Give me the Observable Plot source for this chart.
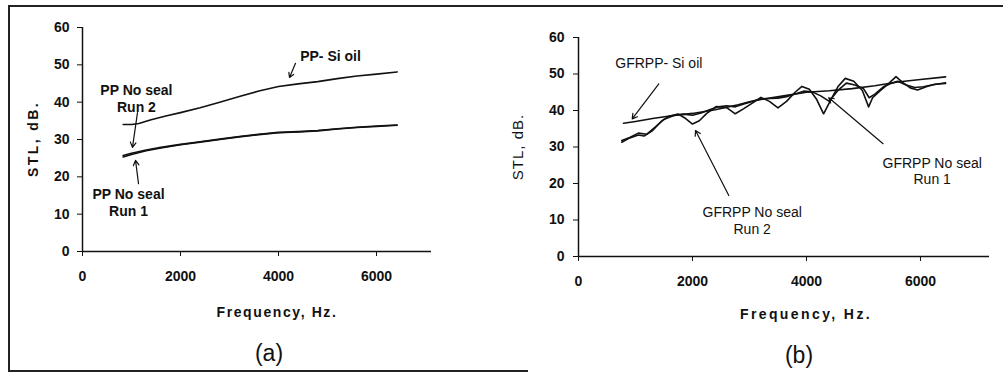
<!DOCTYPE html>
<html>
<head>
<meta charset="utf-8">
<script src="https://cdn.jsdelivr.net/npm/d3@7"></script>
<script src="https://cdn.jsdelivr.net/npm/@observablehq/plot@0.6"></script>
<style>
  html, body { margin: 0; padding: 0; background: #fff; }
  #fig { position: relative; width: 1003px; height: 382px; background: #fff; overflow: hidden;
         font-family: "Liberation Sans", Arial, sans-serif; color: #111; }
  .panel { position: absolute; top: 0; }
  .lbl { position: absolute; white-space: nowrap; transform: translate(-50%, -50%); }
  .axlbl { font-size: 14px; font-weight: bold; letter-spacing: 1.6px; }
  .ylbl { transform: translate(-50%, -50%) rotate(-90deg); }
  .tag { font-size: 23px; font-weight: normal; }
</style>
</head>
<body>
<div id="fig">
  <div style="position:absolute;left:8px;top:5px;width:1000px;height:0;border-top:2px solid #222"></div>
  <div style="position:absolute;left:8px;top:5px;width:0;height:366px;border-left:2px solid #222"></div>
  <div style="position:absolute;left:8px;top:370px;width:520px;height:0;border-top:2px solid #222"></div>
  <div id="pa" class="panel" style="left:0px"></div>
  <div id="pb" class="panel" style="left:500px"></div>
  <div class="lbl axlbl ylbl" style="left:33px;top:139px;letter-spacing:2.4px">STL, dB.</div>
  <div class="lbl axlbl" style="left:277px;top:312px">Frequency, Hz.</div>
  <div class="lbl tag" style="left:269px;top:353px">(a)</div>
  <div class="lbl axlbl ylbl" style="left:517px;top:147px;letter-spacing:1px;font-weight:normal;font-size:15px">STL, dB.</div>
  <div class="lbl axlbl" style="left:806px;top:314px;letter-spacing:2.4px">Frequency, Hz.</div>
  <div class="lbl tag" style="left:799px;top:355px">(b)</div>
</div>
<script>
// ---------- Panel (a): PP ----------
const xTicks = [0, 2000, 4000, 6000];
const yTicks = [0, 10, 20, 30, 40, 50, 60];

const ppSiOilFreq = [830, 1000, 1150, 1400, 1700, 2000, 2400, 2800, 3200, 3600, 4000, 4400, 4800, 5200, 5600, 6000, 6420];
const ppSiOilSTL  = [34.0, 34.0, 34.3, 35.3, 36.3, 37.2, 38.5, 40.0, 41.5, 43.0, 44.2, 44.9, 45.5, 46.3, 47.0, 47.5, 48.1];

const ppRun1Freq = [830, 1000, 1300, 1600, 2000, 2400, 2800, 3200, 3600, 4000, 4400, 4800, 5200, 5600, 6000, 6420];
const ppRun1STL  = [25.3, 26.0, 27.0, 27.7, 28.6, 29.3, 30.0, 30.7, 31.3, 31.8, 32.0, 32.3, 32.8, 33.2, 33.5, 33.8];

const ppRun2Freq = [830, 1000, 1300, 1600, 2000, 2400, 2800, 3200, 3600, 4000, 4400, 4800, 5200, 5600, 6000, 6420];
const ppRun2STL  = [25.7, 26.3, 27.2, 27.9, 28.7, 29.4, 30.1, 30.8, 31.4, 31.9, 32.1, 32.4, 32.9, 33.3, 33.6, 33.9];

const annAText = ["PP- Si oil", "PP No seal\nRun 2", "PP No seal\nRun 1"];
const annAx    = [5061, 1100, 939];
const annAy    = [52.5, 41.1, 13.3];
const arrAx1 = [4347, 1122, 1143];
const arrAy1 = [50.4, 37.2, 18.2];
const arrAx2 = [4224, 1020, 1082];
const arrAy2 = [46.6, 27.9, 24.4];

// ---------- Panel (b): GFRPP ----------
const gfSiOilFreq = [790, 1000, 1300, 1600, 2000, 2400, 2800, 3000, 3200, 3600, 4000, 4400, 4800, 5200, 5600, 6000, 6440];
const gfSiOilSTL  = [36.5, 37.0, 37.8, 38.5, 39.2, 40.2, 41.6, 42.4, 43.0, 44.0, 45.0, 45.4, 46.0, 46.8, 47.8, 48.5, 49.2];

const gfRun1Freq = [760, 900, 1050, 1200, 1350, 1500, 1700, 1850, 2000, 2150, 2300, 2450, 2600, 2750, 2900, 3050, 3200, 3350, 3500, 3650, 3800, 3950, 4100, 4250, 4400, 4550, 4700, 4850, 5000, 5100, 5200, 5350, 5500, 5600, 5750, 5900, 6050, 6200, 6440];
const gfRun1STL  = [31.8, 32.6, 33.8, 33.5, 35.5, 37.6, 38.8, 39.0, 38.7, 39.3, 40.2, 41.0, 41.3, 41.0, 41.8, 42.5, 43.2, 43.3, 43.4, 43.8, 44.5, 45.3, 45.1, 44.0, 42.5, 45.5, 47.5, 47.0, 46.0, 43.5, 44.5, 46.5, 47.5, 48.0, 47.0, 46.3, 46.5, 47.0, 47.6];

const gfRun2Freq = [760, 900, 1050, 1150, 1300, 1450, 1600, 1750, 1880, 2000, 2120, 2250, 2420, 2600, 2750, 2900, 3050, 3200, 3350, 3500, 3650, 3800, 3920, 4050, 4180, 4300, 4420, 4550, 4680, 4830, 4980, 5090, 5160, 5300, 5450, 5570, 5680, 5820, 5950, 6100, 6250, 6440];
const gfRun2STL  = [31.3, 32.5, 33.3, 33.0, 34.5, 37.0, 38.5, 39.0, 37.8, 36.3, 37.2, 39.2, 41.1, 40.8, 39.1, 40.5, 42.0, 43.6, 42.5, 40.7, 42.5, 45.0, 46.6, 45.8, 43.0, 39.1, 42.7, 46.5, 48.8, 48.0, 45.5, 41.0, 43.5, 45.5, 47.5, 49.3, 47.8, 46.2, 45.6, 46.5, 47.2, 47.4];

const annBText = ["GFRPP- Si oil", "GFRPP No seal\nRun 2", "GFRPP No seal\nRun 1"];
const annBx    = [1409, 3047, 6205];
const annBy    = [53.2, 9.9, 23.5];
const arrBx1 = [1409, 2637, 5344];
const arrBy1 = [47.3, 16.7, 30.9];
const arrBx2 = [942, 2053, 4391];
const arrBy2 = [37.7, 34.5, 43.5];

// ---------- helpers ----------
const zip = (xs, ys, name) => xs.map((x, i) => ({ f: x, v: ys[i], s: name }));
const arrows = (x1, y1, x2, y2) => x1.map((_, i) => ({ x1: x1[i], y1: y1[i], x2: x2[i], y2: y2[i] }));
const labels = (t, x, y) => t.map((s, i) => ({ t: s, x: x[i], y: y[i] }));

function panel({ series, ann, arr, width, height, margins, xmax, annWeight, annSize, lineH, tickLS, tickPadX, tickPadY }) {
  return Plot.plot({
    width, height,
    marginLeft: margins[0], marginRight: margins[1], marginTop: margins[2], marginBottom: margins[3],
    style: { fontFamily: '"Liberation Sans", Arial, sans-serif', background: "transparent", color: "#111" },
    x: { domain: [0, xmax] },
    y: { domain: [0, 60] },
    marks: [
      Plot.ruleY([0], { stroke: "#111", strokeWidth: 1.5 }),
      Plot.ruleX([0], { stroke: "#111", strokeWidth: 1.5 }),
      Plot.axisX({ ticks: xTicks, tickFormat: d => String(d), tickSize: 5, tickPadding: tickPadX, label: null,
                   fontSize: 14, fontWeight: "bold", stroke: "#111", letterSpacing: tickLS }),
      Plot.axisY({ ticks: yTicks, tickFormat: d => String(d), tickSize: 5, tickPadding: tickPadY, label: null,
                   fontSize: 14, fontWeight: "bold", stroke: "#111", letterSpacing: "1px" }),
      ...series.map(s => Plot.line(s, { x: "f", y: "v", stroke: "#111", strokeWidth: 1.6, curve: "linear" })),
      Plot.arrow(arr, { x1: "x1", y1: "y1", x2: "x2", y2: "y2", stroke: "#111", strokeWidth: 1.2, headLength: 7, bend: false }),
      Plot.text(ann, { x: "x", y: "y", text: "t", fontSize: annSize, fontWeight: annWeight, lineHeight: lineH, fill: "#111", textAnchor: "middle" })
    ]
  });
}

const chartA = panel({
  series: [zip(ppSiOilFreq, ppSiOilSTL, "si"), zip(ppRun1Freq, ppRun1STL, "r1"), zip(ppRun2Freq, ppRun2STL, "r2")],
  ann: labels(annAText, annAx, annAy),
  arr: arrows(arrAx1, arrAy1, arrAx2, arrAy2),
  width: 490, height: 330, margins: [82, 59, 27, 79], xmax: 7122,
  annWeight: "bold", annSize: 14, lineH: 1.2, tickLS: "1.5px", tickPadX: 15, tickPadY: 8
});
document.getElementById("pa").appendChild(chartA);

const chartB = panel({
  series: [zip(gfSiOilFreq, gfSiOilSTL, "si"), zip(gfRun1Freq, gfRun1STL, "r1"), zip(gfRun2Freq, gfRun2STL, "r2")],
  ann: labels(annBText, annBx, annBy),
  arr: arrows(arrBx1, arrBy1, arrBx2, arrBy2),
  width: 503, height: 330, margins: [78, 14, 37, 74], xmax: 7211,
  annWeight: "normal", annSize: 14, lineH: 1.2, tickLS: "2px", tickPadX: 15, tickPadY: 9
});
document.getElementById("pb").appendChild(chartB);
</script>
</body>
</html>
